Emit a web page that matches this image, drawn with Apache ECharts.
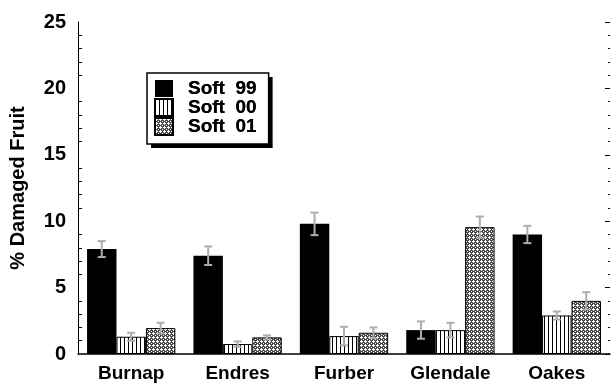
<!DOCTYPE html>
<html>
<head>
<meta charset="utf-8">
<script src="https://cdn.jsdelivr.net/npm/echarts@6/dist/echarts.min.js"></script>
<style>
    html, body { margin: 0; padding: 0; background: #fff; }
    #chart { width: 613px; height: 389px; }
</style>
</head>
<body>
<div id="chart"></div>
<script>
// data
var categories = ['Burnap', 'Endres', 'Furber', 'Glendale', 'Oakes'];
var seriesNames = ['Soft  99', 'Soft  00', 'Soft  01'];
var soft99 = [7.9, 7.4, 9.8, 1.8, 9.0];
var soft00 = [1.3, 0.75, 1.35, 1.8, 2.9];
var soft01 = [1.95, 1.25, 1.6, 9.55, 4.0];
var err99 = [0.6, 0.7, 0.85, 0.65, 0.65];
var err00 = [0.3, 0.2, 0.7, 0.55, 0.3];
var err01 = [0.4, 0.15, 0.4, 0.8, 0.65];

var FONT = '"Liberation Sans", Arial, Helvetica, sans-serif';
var GAP = 0.17;   // barCategoryGap

// fill patterns
function stripes() {
    var c = document.createElement('canvas');
    c.width = 4; c.height = 4;
    var g = c.getContext('2d');
    g.fillStyle = '#fff'; g.fillRect(0, 0, 4, 4);
    g.fillStyle = '#000'; g.fillRect(0, 0, 1, 4);
    return c;
}
function hatch() {
    var c = document.createElement('canvas');
    c.width = 4; c.height = 4;
    var g = c.getContext('2d');
    g.fillStyle = '#4a4a4a'; g.fillRect(0, 0, 4, 4);
    g.fillStyle = '#fff';
    g.fillRect(1, 0, 1, 3);
    g.fillRect(0, 1, 3, 1);
    g.fillRect(3, 3, 1, 1);
    return c;
}

var values = [soft99, soft00, soft01];
var errs = [err99, err00, err01];
var fills = [
    '#000',
    { image: stripes(), repeat: 'repeat' },
    { image: hatch(), repeat: 'repeat' }
];

var myChart = echarts.init(document.getElementById('chart'));

var series = [];
values.forEach(function (vals, i) {
    series.push({
        name: seriesNames[i],
        type: 'bar',
        data: vals,
        barGap: 0,
        barCategoryGap: (GAP * 100) + '%',
        itemStyle: { color: fills[i], borderColor: '#000', borderWidth: i === 0 ? 0 : 1 },
        emphasis: { disabled: true },
        z: 2
    });
});
values.forEach(function (vals, i) {
    series.push({
        type: 'custom',
        silent: true,
        z: 5,
        data: vals.map(function (v, k) { return [k, v, errs[i][k]]; }),
        renderItem: function (params, api) {
            var band = api.size([1, 0])[0];
            var bw = band * (1 - GAP) / 3;
            var c = api.coord([api.value(0), api.value(1)]);
            var x = c[0] + (i - 1) * bw;
            var hi = api.coord([api.value(0), api.value(1) + api.value(2)])[1];
            var lo = api.coord([api.value(0), api.value(1) - api.value(2)])[1];
            var cap = 4;
            var st = { stroke: '#adadad', lineWidth: 2 };
            return {
                type: 'group',
                children: [
                    { type: 'line', shape: { x1: x, y1: hi, x2: x, y2: lo }, style: st },
                    { type: 'line', shape: { x1: x - cap, y1: hi, x2: x + cap, y2: hi }, style: st },
                    { type: 'line', shape: { x1: x - cap, y1: lo, x2: x + cap, y2: lo }, style: st }
                ]
            };
        }
    });
});

// two stacked legends: the lower one only draws the drop shadow,
// the upper one draws the border (so the border itself casts no shadow)
var legendBase = {
    data: seriesNames.map(function (n) { return { name: n, icon: 'rect' }; }),
    orient: 'vertical',
    left: 147,
    top: 73,
    padding: [6, 12, 8, 7],
    itemWidth: 18,
    itemHeight: 17,
    itemGap: 0,
    borderRadius: 0,
    selectedMode: false,
    textStyle: { fontFamily: FONT, fontWeight: 'bold', fontSize: 19, lineHeight: 17, color: '#000', padding: [0, 0, 0, 10] }
};

var options = {
    animation: false,
    textStyle: { fontFamily: FONT },
    grid: { left: 77, right: 3, top: 22, bottom: 35 },
    legend: [
        Object.assign({}, legendBase, {
            z: 10,
            backgroundColor: '#fff',
            borderWidth: 0,
            shadowColor: '#000',
            shadowBlur: 0,
            shadowOffsetX: 4,
            shadowOffsetY: 4
        }),
        Object.assign({}, legendBase, {
            z: 11,
            backgroundColor: 'transparent',
            borderColor: '#000',
            borderWidth: 1.5
        })
    ],
    xAxis: {
        type: 'category',
        data: categories,
        axisLine: { lineStyle: { color: '#000', width: 1.5 } },
        axisTick: { show: false },
        axisLabel: { color: '#000', fontWeight: 'bold', fontSize: 19, fontFamily: FONT, margin: 10 }
    },
    yAxis: [
        {
            type: 'value',
            min: 0, max: 25, interval: 5,
            name: '% Damaged Fruit',
            nameLocation: 'middle',
            nameRotate: 90,
            nameGap: 50,
            nameTextStyle: { color: '#000', fontWeight: 'bold', fontSize: 20, fontFamily: FONT },
            axisLine: { show: true, lineStyle: { color: '#000', width: 1 } },
            axisTick: { inside: true, length: 6, lineStyle: { color: '#000' } },
            minorTick: { show: true, splitNumber: 5, length: 4, lineStyle: { color: '#000' } },
            splitLine: { show: false },
            axisLabel: { color: '#000', fontWeight: 'bold', fontSize: 20, fontFamily: FONT, margin: 12 }
        },
        {
            type: 'value',
            position: 'right',
            min: 0, max: 25, interval: 5,
            axisLine: { show: false },
            axisTick: { show: true, inside: true, length: 5, lineStyle: { color: '#000' } },
            minorTick: { show: true, splitNumber: 5, length: 2, lineStyle: { color: '#000' } },
            splitLine: { show: false },
            axisLabel: { show: false }
        }
    ],
    series: series
};

myChart.setOption(options);
window.addEventListener('resize', myChart.resize);
</script>
</body>
</html>
